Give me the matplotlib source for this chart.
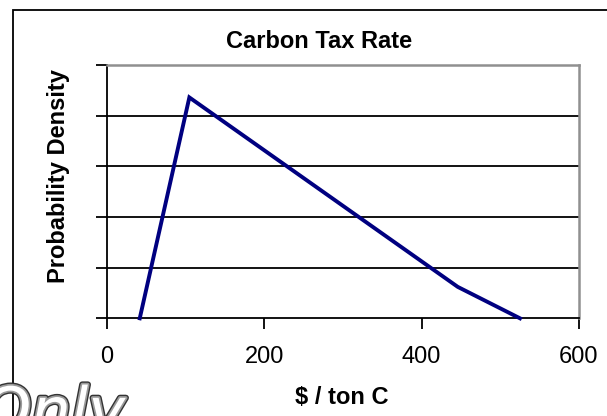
import matplotlib
matplotlib.use("Agg")
import matplotlib.pyplot as plt
from matplotlib.patches import Rectangle
import matplotlib.patheffects as pe

# Carbon tax rate distribution ($ / ton C vs. probability density)
tax_rate = [42, 105, 446, 525]
density = [0.0, 4.36, 0.62, 0.0]
x_ticks = [0, 200, 400, 600]
y_ticks = [0, 1, 2, 3, 4, 5]

W, H = 607, 416
fig = plt.figure(figsize=(W / 100, H / 100), dpi=100)
fig.patch.set_facecolor("white")
plt.rcParams["font.family"] = ["Liberation Sans", "DejaVu Sans"]

# chart-area frame (continues past the right and bottom edges)
fig.add_artist(Rectangle((13 / W, -0.2), 1.2, (H - 10) / H + 0.2,
                         transform=fig.transFigure, fill=False,
                         edgecolor="black", linewidth=1.3, clip_on=False))

ax = fig.add_axes([106.7 / W, 1 - 318.3 / H, (579 - 106.7) / W, (318.3 - 65) / H])
ax.set_facecolor("white")
ax.set_xlim(0, 600)
ax.set_ylim(0, 5)

for v in y_ticks[1:-1]:
    ax.axhline(v, color="black", linewidth=1.3, zorder=1)

ax.plot(tax_rate, density, color="#000080", linewidth=2.8, zorder=3,
        solid_joinstyle="miter", clip_on=False)

ax.set_xticks(x_ticks)
ax.set_xticklabels([str(t) for t in x_ticks], fontsize=17)
ax.set_yticks(y_ticks)
ax.set_yticklabels([])
ax.tick_params(axis="both", direction="out", length=8, width=1.3, color="black")
ax.tick_params(axis="x", pad=12)

ax.spines["left"].set_color("black")
ax.spines["bottom"].set_color("black")
ax.spines["left"].set_linewidth(1.3)
ax.spines["bottom"].set_linewidth(1.3)
ax.spines["top"].set_color("#909090")
ax.spines["right"].set_color("#909090")
ax.spines["top"].set_linewidth(1.8)
ax.spines["right"].set_linewidth(1.8)

fig.text(319 / W, 1 - 41 / H, "Carbon Tax Rate", ha="center", va="center",
         fontsize=17, fontweight="bold")
fig.text(342 / W, 1 - 397 / H, "$ / ton C", ha="center", va="center",
         fontsize=17, fontweight="bold")
fig.text(58 / W, 1 - 176 / H, "Probability Density", ha="center", va="center",
         rotation=90, fontsize=17, fontweight="bold")

# outlined stamp text at lower left
fig.text(-18 / W, 1 - 432 / H, "Only", ha="left", va="baseline",
         fontsize=45, style="italic", color="white",
         family=["DejaVu Sans"],
         path_effects=[pe.Stroke(linewidth=4.5, foreground="#333333"),
                       pe.Stroke(linewidth=2.5, foreground="#9a9a9a"),
                       pe.Normal()])

fig.savefig("out.png", dpi=100)
